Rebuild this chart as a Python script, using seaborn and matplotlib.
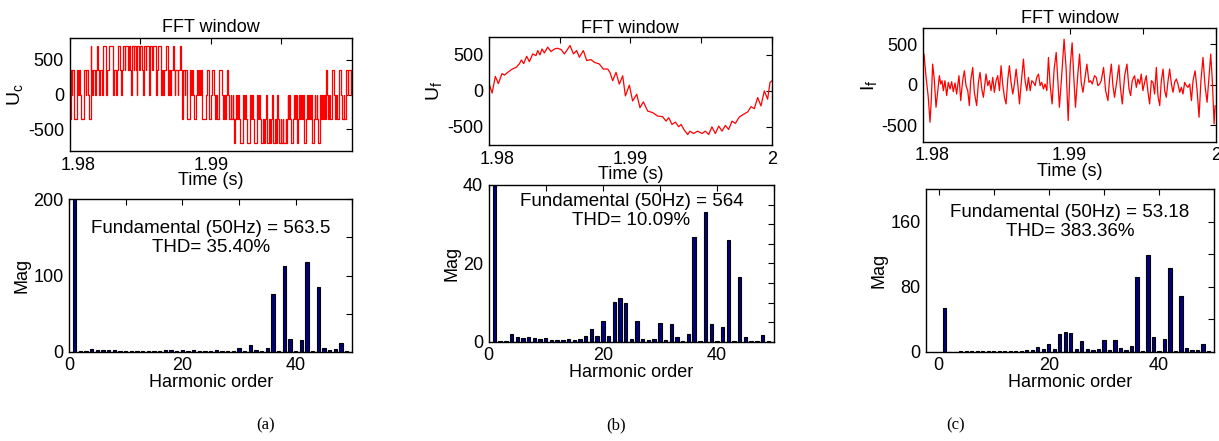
import numpy as np
import matplotlib
matplotlib.use('Agg')
import matplotlib.pyplot as plt
import matplotlib.transforms as mtransforms
import seaborn as sns

# ---------------- dados ----------------
# (a) tensao do conversor U_c: um nivel a cada 0.05 ms, uma linha por ms
# codigo: 0=-700, 1=-350, 2=0, 3=350, 4=700
niveis_uc = [
    "11323321113323321111", "13323321114323332334", "43233323444323334444",
    "43233323444432334434", "44434432444344324443", "44432444344432444344",
    "44323344432332334443", "23323344323332333431", "23323321113323321112",
    "33233232111112233211", "12333211211233332112", "11233211211210012112",
    "11000121121000012112", "10000121121000100120", "00010012000100210001",
    "00100010121210000121", "12001211211200012112", "11210012112100121121",
    "12133211211233321121", "13333211211233233323",
]
valor_nivel = [-700, -350, 0, 350, 700]
passo_uc_ms = 0.05

# (b) tensao do filtro U_f (tempo em ms depois de 1.98 s)
t_uf_ms = [0.00, 0.24, 0.47, 0.68, 0.94, 1.11, 1.34, 1.65, 1.93, 2.16, 2.31, 2.47,
           2.68, 2.87, 3.11, 3.34, 3.46, 3.62, 3.76, 3.93, 4.16, 4.40, 4.64, 4.87,
           5.11, 5.34, 5.51, 5.74, 5.98, 6.21, 6.40, 6.68, 6.92, 7.22, 7.46, 7.81,
           8.09, 8.40, 8.56, 8.75, 8.99, 9.22, 9.46, 9.65, 9.93, 10.16, 10.45, 10.68,
           10.92, 11.22, 11.58, 11.93, 12.28, 12.52, 12.71, 12.94, 13.18, 13.41, 13.58,
           13.81, 14.05, 14.21, 14.45, 14.75, 15.06, 15.29, 15.53, 15.76, 16.00, 16.24,
           16.47, 16.71, 16.94, 17.18, 17.41, 17.69, 17.98, 18.28, 18.52, 18.75, 18.99,
           19.22, 19.46, 19.69, 19.86, 20.00]
uf = [116, -30, 200, 100, 240, 218, 255, 300, 325, 372, 428, 377,
      479, 405, 512, 488, 558, 498, 580, 525, 605, 545, 580, 590,
      572, 512, 558, 628, 512, 558, 465, 558, 420, 433, 395, 372,
      302, 302, 256, 140, 256, 93, 209, -70, 79, -140, -47, -233,
      -153, -279, -302, -349, -358, -419, -372, -465, -433, -498, -465,
      -544, -605, -558, -591, -558, -591, -558, -605, -498, -591, -488,
      -558, -479, -535, -419, -451, -363, -326, -293, -219, -247, -93,
      -209, 0, -116, 116, 140]

# (c) corrente do filtro I_f (tempo em ms depois de 1.98 s)
t_if_ms = [0.05, 0.18, 0.34, 0.46, 0.55, 0.64, 0.75, 0.87, 0.98, 1.10, 1.19, 1.28,
           1.37, 1.48, 1.60, 1.71, 1.83, 1.94, 2.05, 2.17, 2.28, 2.44, 2.56, 2.69,
           2.81, 2.92, 3.04, 3.15, 3.24, 3.38, 3.49, 3.65, 3.77, 3.88, 4.00, 4.11,
           4.29, 4.41, 4.52, 4.63, 4.75, 4.86, 4.98, 5.09, 5.21, 5.32, 5.43, 5.55,
           5.66, 5.78, 5.89, 6.00, 6.12, 6.23, 6.35, 6.46, 6.58, 6.69, 6.85, 6.96,
           7.08, 7.19, 7.31, 7.42, 7.53, 7.65, 7.76, 7.88, 7.99, 8.10, 8.22, 8.33,
           8.45, 8.56, 8.68, 8.81, 8.95, 9.09, 9.20, 9.31, 9.45, 9.63, 9.77, 9.91,
           10.05, 10.18, 10.30, 10.41, 10.57, 10.69, 10.80, 10.92, 11.03, 11.19, 11.33,
           11.44, 11.56, 11.71, 11.83, 11.94, 12.06, 12.17, 12.33, 12.47, 12.63, 12.74,
           12.86, 12.97, 13.08, 13.24, 13.38, 13.47, 13.61, 13.77, 13.93, 14.07, 14.18,
           14.29, 14.45, 14.57, 14.68, 14.80, 14.91, 15.02, 15.14, 15.25, 15.37, 15.48,
           15.60, 15.71, 15.82, 15.94, 16.05, 16.17, 16.28, 16.40, 16.51, 16.62, 16.74,
           16.85, 16.97, 17.08, 17.19, 17.31, 17.42, 17.54, 17.65, 17.76, 17.88, 17.99,
           18.11, 18.22, 18.34, 18.45, 18.59, 18.72, 18.86, 18.99, 19.13, 19.27, 19.41,
           19.55, 19.66, 19.77, 19.89, 19.96]
i_f = [381, 115, -152, -459, -172, 258, 74, -275, -90, 115, 12, 53,
       -70, 53, -131, 33, -49, 41, -82, 25, -111, 115, -193, 53,
       176, -8, -70, -254, 53, 217, -90, -254, 33, 156, -49, -152,
       135, -8, 53, -70, 94, -90, 53, 115, -70, 238, 12, -152,
       -234, 74, 238, 33, -111, 12, 197, 12, -234, 12, 320, 53,
       -70, 94, -70, 53, 33, -8, 94, 135, -8, 33, -49, 12,
       -70, 340, -8, -234, 197, 402, 74, -275, 74, 566, 197, -439,
       238, 521, 74, -275, 135, 381, 33, -90, 53, 258, 33,
       53, 12, 115, 94, -8, 12, 53, 217, -70, -193, 74,
       258, -8, -152, 53, 246, -8, -234, 115, 258, -49, -131,
       53, 115, -29, 74, 12, 135, -70, 33, 115, -90, -234,
       53, 33, -111, 217, -131, -254, 53, 197, -70, -152, 53,
       197, 12, -90, 33, 74, 12, -90, -29, -111, 33, -8,
       -29, 12, -193, 53, 176, -49, -398, 53, 340, -8, -213,
       115, 381, 53, -480, -254]

# espectros harmonicos (ordens 1..49)
ordem = list(range(1, 50))
mag_a = [563.5, 0.3, 1.5, 3.5, 2.5, 2.5, 2.5, 2, 1.5, 1.5,
         1, 0.3, 0.3, 1.5, 0.3, 1.5, 2, 2.5, 1, 2.5,
         1.5, 2.5, 0.5, 1.5, 0.3, 2, 0.3, 0.3, 1, 5.5,
         1.5, 9, 2, 1.5, 5, 76, 0.5, 112, 17, 1,
         16, 118, 0.5, 85, 5, 2, 3, 11, 0.5]
mag_b = [564, 0.2, 0.3, 1.9, 1.3, 1.0, 1.2, 1.0, 0.7, 1.0,
         0.4, 0.4, 0.4, 0.8, 0.4, 0.8, 1.4, 3.2, 1.4, 5.3,
         1.5, 10.1, 11.1, 9.8, 0.8, 5.2, 0.8, 0.4, 0.8, 4.7,
         0.4, 4.5, 1.1, 0.3, 2.0, 26.8, 0.1, 33.0, 4.6, 0.2,
         3.7, 26.0, 0.2, 16.4, 1.1, 0.2, 0.3, 1.8, 0.2]
mag_c = [53.18, 0, 0, 0.5, 1, 1, 0.8, 0.8, 0.5, 1,
         0.5, 0.5, 0.5, 1, 1, 1.5, 2.5, 6, 3.5, 10,
         3.5, 22, 24, 23, 3, 13, 3, 2.5, 3, 14,
         1.5, 14, 4, 2, 7, 92, 0.5, 119, 18, 0.5,
         15, 103, 0.5, 69, 5, 2, 2.5, 9, 0.5]
fundamental = ['563.5', '564', '53.18']
thd = ['35.40%', '10.09%', '383.36%']
legendas = ['(a)', '(b)', '(c)']

# ---------------- estilo ----------------
sns.set_style('white')
plt.rcParams['font.family'] = ['Liberation Sans', 'DejaVu Sans']
plt.rcParams['mathtext.fontset'] = 'custom'
plt.rcParams['mathtext.rm'] = 'Liberation Sans'
plt.rcParams['mathtext.it'] = 'Liberation Sans:italic'
for chave in ['text.color', 'axes.labelcolor', 'xtick.color', 'ytick.color', 'axes.edgecolor']:
    plt.rcParams[chave] = 'black'

FS = 13
W, H = 1219, 441
fig = plt.figure(figsize=(W / 100, H / 100), dpi=100)
fig.patch.set_facecolor('white')


def novo_eixo(x0, y0, x1, y1):
    return fig.add_axes([x0 / W, 1 - y1 / H, (x1 - x0) / W, (y1 - y0) / H])


def acabamento(ax):
    for s in ax.spines.values():
        s.set_color('black')
        s.set_linewidth(1.0)
    ax.tick_params(direction='in', length=4, width=0.8, top=True, right=True,
                   labelsize=FS, pad=4, colors='black')


def plotar_onda(ax, t, y, rotulo, ylim, xmax, pad_titulo, rot_x, degraus=False):
    extra = {'drawstyle': 'steps-post'} if degraus else {}
    sns.lineplot(x=t, y=y, ax=ax, color='red', lw=0.9, estimator=None, sort=False, **extra)
    ax.set_xlim(1.98, xmax)
    ax.set_ylim(*ylim)
    ax.set_xticks([1.98, 1.985, 1.99, 1.995, 2.0])
    ax.set_xticklabels(rot_x)
    ax.set_yticks([-500, 0, 500])
    ax.set_yticklabels(['-500', '0', '500'])
    ax.set_title('FFT window', fontsize=FS, pad=pad_titulo)
    ax.set_xlabel('Time (s)', fontsize=FS, labelpad=-1)
    ax.set_ylabel(rotulo, fontsize=FS + 1, labelpad=2)
    acabamento(ax)
    desloc = mtransforms.ScaledTranslation(6 / 72, 0, fig.dpi_scale_trans)
    lab = ax.get_xticklabels()[0]
    lab.set_transform(lab.get_transform() + desloc)


def plotar_barras(ax, mag, ylim, yticks, ylabels, xlim, fund, h, ytexto):
    sns.barplot(x=ordem, y=mag, native_scale=True, color='#00007F', saturation=1,
                edgecolor='black', linewidth=0.8, width=0.6, errorbar=None, ax=ax)
    ax.set_xlim(*xlim)
    ax.set_ylim(*ylim)
    ax.set_xticks([0, 10, 20, 30, 40, 50])
    ax.set_xticklabels(['0', '', '20', '', '40', ''])
    ax.set_yticks(yticks)
    ax.set_yticklabels(ylabels)
    ax.set_xlabel('Harmonic order', fontsize=FS, labelpad=0)
    ax.set_ylabel('Mag', fontsize=FS, labelpad=2)
    ax.text(0.5, ytexto, f'Fundamental (50Hz) = {fund}\nTHD= {h}', ha='center',
            va='center', transform=ax.transAxes, fontsize=FS + 0.5, linespacing=1.15)
    acabamento(ax)


# tempos
niveis = [valor_nivel[int(c)] for linha in niveis_uc for c in linha]
t_uc = 1.98 + np.arange(len(niveis)) * passo_uc_ms / 1000
t_uc = np.append(t_uc, 2.0)
niveis.append(niveis[-1])
t_uf = 1.98 + np.array(t_uf_ms) / 1000
t_if = 1.98 + np.array(t_if_ms) / 1000

rot_sem_2 = ['1.98', '', '1.99', '', '']
rot_com_2 = ['1.98', '', '1.99', '', '2']

# (a)
ax = novo_eixo(69.5, 38, 352, 151)
plotar_onda(ax, t_uc, niveis, r'U$_\mathrm{c}$', (-810, 810), 1.9999, 4, rot_sem_2, degraus=True)
ax = novo_eixo(69, 199.3, 352.3, 351.7)
plotar_barras(ax, mag_a, (0, 200), [0, 50, 100, 150, 200], ['0', '', '100', '', '200'],
              (0, 50), fundamental[0], thd[0], 0.745)

# (b)
ax = novo_eixo(488.7, 36.7, 772, 145)
plotar_onda(ax, t_uf, uf, r'U$_\mathrm{f}$', (-750, 750), 2.0, 3, rot_com_2)
ax = novo_eixo(488.7, 185, 774, 341.7)
plotar_barras(ax, mag_b, (0, 40), list(range(0, 41, 5)),
              ['0', '', '', '', '20', '', '', '', '40'],
              (0, 50), fundamental[1], thd[1], 0.832)

# (c)
ax = novo_eixo(923.3, 28.3, 1215.7, 141.7)
plotar_onda(ax, t_if, i_f, r'I$_\mathrm{f}$', (-700, 700), 2.0, 4, rot_com_2)
ax = novo_eixo(926, 189, 1214, 351.7)
plotar_barras(ax, mag_c, (0, 200), [0, 40, 80, 120, 160, 200], ['0', '', '80', '', '160', ''],
              (-2.3, 50), fundamental[2], thd[2], 0.80)

for x, txt in zip([266, 616, 956], legendas):
    fig.text(x / W, 1 - 425 / H, txt, ha='center', va='center', fontsize=12,
             family='Liberation Serif')

fig.savefig('out.png', dpi=100, facecolor='white')
